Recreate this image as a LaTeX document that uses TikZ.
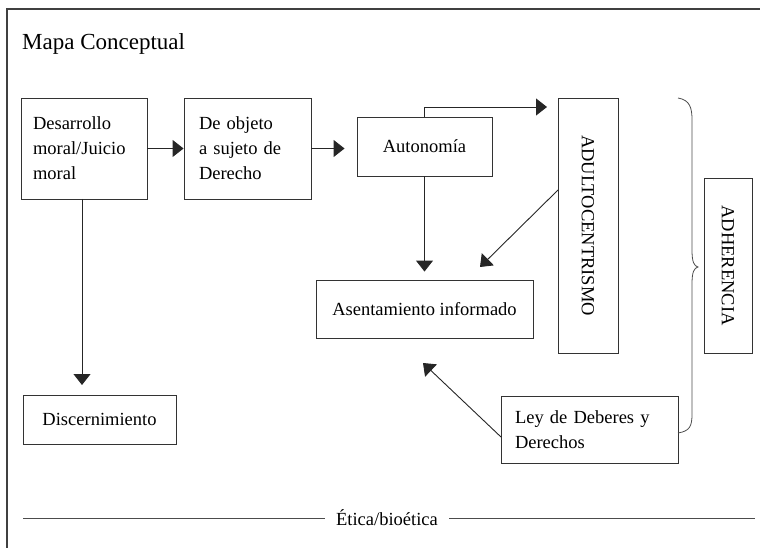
\documentclass[tikz,border=0pt]{standalone}
\usepackage{fontspec}
\setmainfont{Liberation Serif}
\usetikzlibrary{arrows.meta,calc}
\begin{document}
\begin{tikzpicture}[x=1pt,y=-1pt,
  box/.style={draw=black!80, line width=0.9pt, inner sep=0pt, font=\fontsize{18.5}{25}\selectfont},
  arr/.style={draw=black!85, line width=0.9pt, -{Triangle[length=11pt,width=17pt]}},
  frame/.style={draw=black!75, line width=1.1pt},
  thinline/.style={draw=black!70, line width=0.8pt},
  lbl/.style={inner sep=0pt, font=\fontsize{18.5}{25}\selectfont}]
\useasboundingbox (0,0) rectangle (760,548);
% frame
\coordinate (f1) at (7,548);
\coordinate (f2) at (7,9);
\coordinate (f3) at (760,9);
\draw[frame] (f1) -- (f2) -- (f3);
% title
\node[lbl, anchor=base west, font=\fontsize{23}{28}\selectfont] (title) at (22,50) {Mapa Conceptual};
% boxes
\node[box, minimum width=126, minimum height=101, text width=102, align=left] (des) at (84,148.5)
  {\raisebox{-3pt}{\parbox{102pt}{Desarrollo\\moral/Juicio\\moral}}};
\node[box, minimum width=127, minimum height=101, text width=97, align=left] (obj) at (247.5,148.5)
  {\raisebox{-3pt}{\parbox{97pt}{De objeto\\a sujeto de\\Derecho}}};
\node[box, minimum width=135, minimum height=59] (aut) at (424.5,146.5) {Autonomía};
\node[box, minimum width=60, minimum height=255] (adu) at (588,225.5) {\rotatebox{-90}{ADULTOCENTRISMO}};
\node[box, minimum width=48, minimum height=175] (adh) at (728,265.5) {\rotatebox{-90}{ADHERENCIA}};
\node[box, minimum width=217, minimum height=58] (ase) at (424.5,309) {Asentamiento informado};
\node[box, minimum width=153, minimum height=49] (dis) at (99.5,419.5) {Discernimiento};
\node[box, minimum width=177, minimum height=67, text width=149, align=left] (ley) at (589.5,429.5)
  {\raisebox{-3pt}{\parbox{149pt}{Ley de Deberes y\\Derechos}}};
% connectors
\draw[arr] (des.east) -- (obj.west);
\draw[arr, shorten >=12pt] (obj.east) -- (obj.east -| aut.west);
\coordinate (t1) at (547,107);
\draw[arr] (aut.north) |- (t1);
\draw[arr, shorten >=8pt] (aut.south) -- (aut.south |- ase.north);
\coordinate (a1) at (558,190);
\coordinate (a2) at (480,267);
\draw[arr] (a1) -- (a2);
\coordinate (l1) at (501,437);
\coordinate (l2) at (423,363);
\draw[arr] (l1) -- (l2);
\coordinate (d1) at (82,199);
\coordinate (d2) at (82,385);
\draw[arr] (d1) -- (d2);
% brace
\coordinate (b1) at (678,98);
\coordinate (b2) at (678,433);
\draw[thinline] (b1) .. controls (690,100) and (692,108) .. (692,120)
  -- (692,250) .. controls (692,262) and (694,266) .. (698,267)
  .. controls (694,268) and (692,272) .. (692,284)
  -- (692,414) .. controls (692,426) and (690,431) .. (b2);
% bottom line
\node[lbl] (eti) at (387,518) {Ética/bioética};
\coordinate (e1) at (23,518);
\coordinate (e2) at (755,518);
\draw[thinline] (e1) -- ([xshift=-11pt]eti.west);
\draw[thinline] ([xshift=11pt]eti.east) -- (e2);
\end{tikzpicture}
\end{document}
